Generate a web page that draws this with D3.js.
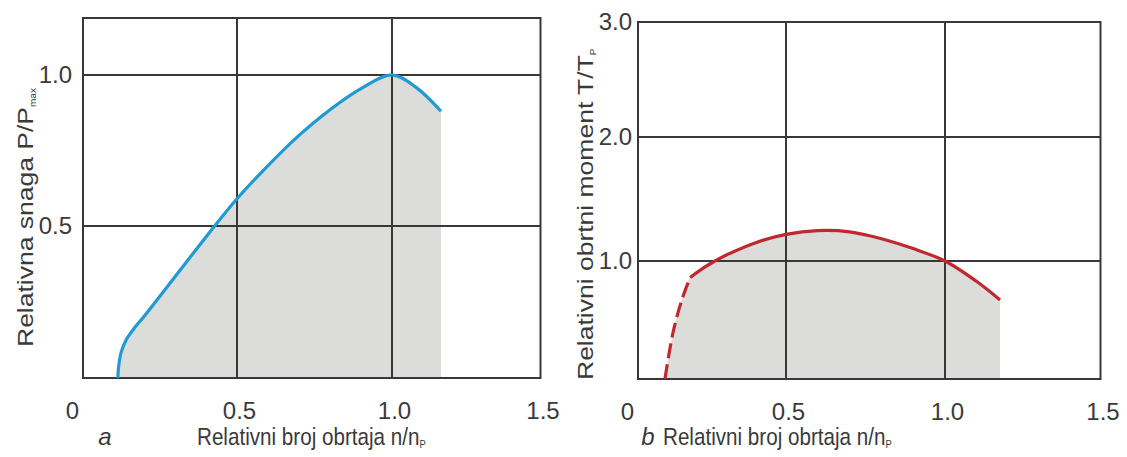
<!DOCTYPE html>
<html><head><meta charset="utf-8">
<script src="https://cdn.jsdelivr.net/npm/d3@7/dist/d3.min.js"></script>
<style>
body{margin:0;background:#fff}
text{font-family:"Liberation Sans",Arial,Helvetica,sans-serif;fill:#3a3a3a}
</style>
</head><body>
<svg id="chart" width="1127" height="457"></svg>
<script>
// ---- data ----
const xTicks = [0, 0.5, 1.0, 1.5];
const xTickLabels = ["0", "0.5", "1.0", "1.5"];
const powerTicks = [0.5, 1.0];
const powerTickLabels = ["0.5", "1.0"];
const torqueTicks = [1.0, 2.0, 3.0];
const torqueTickLabels = ["1.0", "2.0", "3.0"];

// panel a: relative power vs relative speed
const powerSpeed = [0.113, 0.116, 0.124, 0.14, 0.165, 0.2, 0.3, 0.4, 0.5, 0.6, 0.7, 0.8, 0.9, 1.0, 1.08, 1.165];
const powerValue = [0.0, 0.04, 0.085, 0.125, 0.162, 0.205, 0.335, 0.465, 0.59, 0.70, 0.80, 0.885, 0.955, 1.0, 0.96, 0.88];

// panel b: relative torque vs relative speed (dashed start, solid rest)
const torqueDashSpeed = [0.091, 0.118, 0.148, 0.176];
const torqueDashValue = [0.0, 0.39, 0.67, 0.86];
const torqueSpeed = [0.176, 0.22, 0.26, 0.3, 0.4, 0.5, 0.6, 0.7, 0.8, 0.9, 1.0, 1.1, 1.177];
const torqueValue = [0.86, 0.94, 1.0, 1.05, 1.15, 1.215, 1.245, 1.235, 1.18, 1.10, 1.0, 0.83, 0.67];

const panelLetters = ["a", "b"];
const xTitle = "Relativni broj obrtaja n/n";
const xTitleSub = "P";
const powerTitle = "Relativna snaga P/P";
const powerTitleSub = "max";
const torqueTitle = "Relativni obrtni moment T/T";
const torqueTitleSub = "P";

// ---- layout ----
const svg = d3.select("#chart");
svg.append("rect").attr("width", 1127).attr("height", 457).attr("fill", "#fff");

const GRID = "#383838", FILL = "#dcdcda";
const BLUE = "#1f9bd3", RED = "#c0282f";
const FONT = '"Liberation Sans",Arial,sans-serif';
const CURVE = d3.curveCatmullRom.alpha(0.5);

const xa = d3.scaleLinear().domain([0, 0.5, 1, 1.5]).range([83, 237, 392, 540.5]);
const ya = d3.scaleLinear().domain([0, 0.5, 1, 1.19]).range([378, 226, 75, 18]);
const xb = d3.scaleLinear().domain([0, 0.5, 1, 1.5]).range([638, 786, 945, 1100.5]);
const yb = d3.scaleLinear().domain([0, 1, 2, 3]).range([379, 261, 137, 22]);

function panel(x, y, yTicks, yTickLabels, yPad, fills, lines, letter, letterX, titleX, yTitle, yTitleSub, yTitleX, yTitleY) {
  const g = svg.append("g");
  const [x0, x1] = [x(0), x(1.5)];
  const [yBot, yTop] = [y.range()[0], y.range()[y.range().length - 1]];

  fills.forEach(pts => {
    g.append("path").datum(pts)
      .attr("fill", FILL)
      .attr("d", d3.area().x(d => x(d[0])).y0(y(0)).y1(d => y(d[1])).curve(CURVE));
  });

  g.selectAll(".vg").data(xTicks.filter(d => d > 0 && d < 1.5)).join("line")
    .attr("x1", d => x(d)).attr("x2", d => x(d)).attr("y1", yTop).attr("y2", yBot)
    .attr("stroke", GRID).attr("stroke-width", 2);
  g.selectAll(".hg").data(yTicks).join("line")
    .attr("x1", x0).attr("x2", x1).attr("y1", d => y(d)).attr("y2", d => y(d))
    .attr("stroke", GRID).attr("stroke-width", 2);
  g.append("rect").attr("x", x0).attr("y", yTop).attr("width", x1 - x0).attr("height", yBot - yTop)
    .attr("fill", "none").attr("stroke", GRID).attr("stroke-width", 2);

  lines.forEach(l => {
    g.append("path").datum(l.pts)
      .attr("fill", "none").attr("stroke", l.color).attr("stroke-width", 3.2)
      .attr("stroke-linecap", "butt")
      .attr("stroke-dasharray", l.dash || null)
      .attr("d", d3.line().x(d => x(d[0])).y(d => y(d[1])).curve(CURVE));
  });

  const ax = svg.append("g").attr("transform", `translate(0,${yBot})`)
    .call(d3.axisBottom(x).tickValues(xTicks).tickFormat((d, i) => xTickLabels[i]).tickSize(0).tickPadding(24));
  ax.select(".domain").remove();
  ax.selectAll("text").attr("font-size", 24).attr("fill", "#3a3a3a").attr("font-family", FONT)
    .attr("dx", (d, i) => i === 0 ? -11 : 2);

  const ay = svg.append("g").attr("transform", `translate(${x0},0)`)
    .call(d3.axisLeft(y).tickValues(yTicks).tickFormat((d, i) => yTickLabels[i]).tickSize(0).tickPadding(yPad));
  ay.select(".domain").remove();
  ay.selectAll("text").attr("font-size", 24).attr("fill", "#3a3a3a").attr("font-family", FONT);

  svg.append("text").attr("x", letterX).attr("y", 445).attr("font-size", 24)
    .attr("font-style", "italic").attr("text-anchor", "middle").text(letter);
  const xt = svg.append("text").attr("transform", `translate(${titleX},445) scale(0.86,1)`).attr("font-size", 24);
  xt.append("tspan").text(xTitle);
  xt.append("tspan").attr("font-size", 11).attr("dy", 3).text(xTitleSub);

  const yt = svg.append("text").attr("transform", `translate(${yTitleX},${yTitleY}) rotate(-90) scale(1,0.86)`)
    .attr("font-size", 26.5);
  yt.append("tspan").text(yTitle);
  yt.append("tspan").attr("font-size", 10).attr("dy", 3).text(yTitleSub);
}

const powerPts = powerSpeed.map((s, i) => [s, powerValue[i]]);
const tDash = torqueDashSpeed.map((s, i) => [s, torqueDashValue[i]]);
const tSolid = torqueSpeed.map((s, i) => [s, torqueValue[i]]);

panel(xa, ya, powerTicks, powerTickLabels, 11,
  [powerPts], [{pts: powerPts, color: BLUE}],
  panelLetters[0], 105, 197, powerTitle, powerTitleSub, 33, 347);

panel(xb, yb, torqueTicks, torqueTickLabels, 6,
  [tDash.concat(tSolid.slice(1))],
  [{pts: tDash, color: RED, dash: "15,6"}, {pts: tSolid, color: RED}],
  panelLetters[1], 648, 663, torqueTitle, torqueTitleSub, 593, 380);
</script>
</body></html>
